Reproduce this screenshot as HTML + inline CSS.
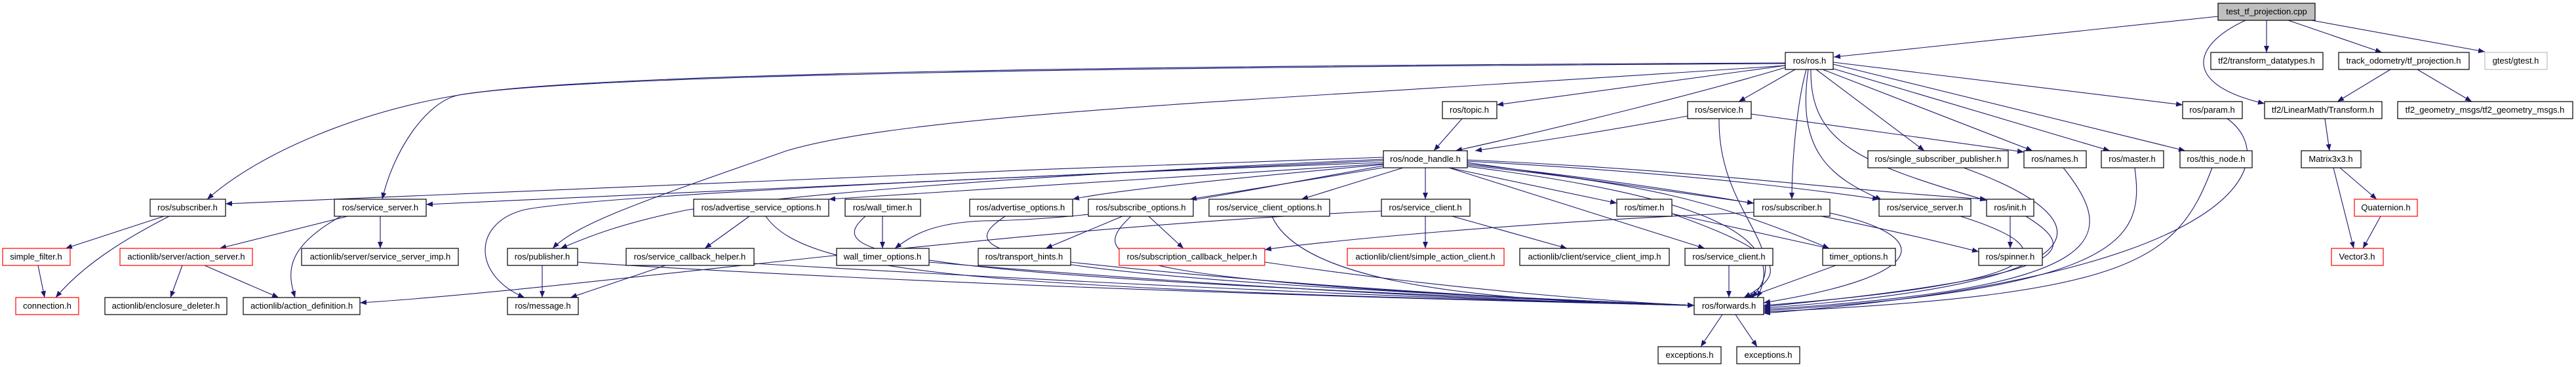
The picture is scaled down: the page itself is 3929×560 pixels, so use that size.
<!DOCTYPE html>
<html><head><meta charset="utf-8"><style>
html,body{margin:0;padding:0;background:#fff;}
svg{display:block;}
text{font-family:"Liberation Sans",sans-serif;font-size:13px;text-anchor:middle;fill:#000;}
.e{fill:none;stroke:#191970;stroke-width:1.1;marker-end:url(#a);}
.n{fill:#fff;stroke:#000;stroke-width:1.2;}
.r{fill:#fff;stroke:#f00;stroke-width:1.2;}
</style></head><body>
<svg width="3929" height="560" viewBox="0 0 3929 560" xmlns="http://www.w3.org/2000/svg">
<defs><marker id="a" viewBox="0 0 10 8" refX="10" refY="4" markerWidth="10" markerHeight="8" markerUnits="userSpaceOnUse" orient="auto"><path d="M0,0 L10,4 L0,8 z" fill="#191970"/></marker></defs>
<g>
<path class="e" d="M3383,25 L2797,87"/>
<path class="e" d="M3457,31 L3457,80"/>
<path class="e" d="M3425,31 C3340,70 3330,130 3454,158"/>
<path class="e" d="M3490,31 L3633,80"/>
<path class="e" d="M3520,30 L3790,79"/>
<path class="e" d="M3646,106 L3565,155"/>
<path class="e" d="M3687,106 L3770,155"/>
<path class="e" d="M3546,181 L3553,230"/>
<path class="e" d="M3569,256 L3625,304"/>
<path class="e" d="M3559,256 L3590,379"/>
<path class="e" d="M3631,330 L3604,379"/>
<path class="e" d="M2723,100 L2283,160"/>
<path class="e" d="M2738,106 L2652,155"/>
<path class="e" d="M2723,103 C2600,140 2400,190 2220,230"/>
<path class="e" d="M2574,177 C2450,200 2350,215 2250,230"/>
<path class="e" d="M2230,181 L2187,230"/>
<path class="e" d="M2755,106 C2740,160 2733,250 2733,304"/>
<path class="e" d="M2770,106 L2935,230"/>
<path class="e" d="M2780,106 L3100,230"/>
<path class="e" d="M2790,103 L3218,230"/>
<path class="e" d="M2796,98 L3333,230"/>
<path class="e" d="M2796,95 L3329,160"/>
<path class="e" d="M2762,106 C2760,220 2840,250 3030,306"/>
<path class="e" d="M2758,106 C2740,230 2790,270 2870,305"/>
<path class="e" d="M2671,174 L3087,232"/>
<path class="e" d="M2622,181 C2620,330 2740,380 2672,454"/>
<path class="e" d="M2723,96 C1800,100 900,110 700,145 C550,170 400,230 316,304"/>
<path class="e" d="M2723,97 C1800,102 900,112 700,145 C650,155 600,230 583,304"/>
<path class="e" d="M2723,100 C2000,150 1400,170 1200,230 C1000,300 880,340 843,379"/>
<path class="e" d="M2110,243 C1500,270 1200,300 1050,320 C950,340 900,360 855,379"/>
<path class="e" d="M2110,240 C1500,260 800,290 344,311"/>
<path class="e" d="M2110,245 C1500,270 900,300 650,312"/>
<path class="e" d="M2110,248 C1500,270 900,300 800,320 C720,340 720,420 800,454"/>
<path class="e" d="M2110,250 C1800,270 1500,290 1264,304"/>
<path class="e" d="M2110,251 C1900,270 1700,290 1636,304"/>
<path class="e" d="M2115,255 L1815,304"/>
<path class="e" d="M2140,256 L1985,304"/>
<path class="e" d="M2174,256 L2174,304"/>
<path class="e" d="M2210,256 L2466,310"/>
<path class="e" d="M2238,248 L2675,310"/>
<path class="e" d="M2238,246 C2500,260 2700,280 2866,304"/>
<path class="e" d="M2238,244 C2600,260 2800,290 3030,304"/>
<path class="e" d="M2210,256 L2600,379"/>
<path class="e" d="M2238,252 C2500,280 2600,300 2790,379"/>
<path class="e" d="M2238,250 C2600,290 2800,330 3018,384"/>
<path class="e" d="M2238,254 C2600,300 2730,360 2680,454"/>
<path class="e" d="M2110,253 C1900,290 1700,335 1500,337 C1420,340 1390,360 1365,379"/>
<path class="e" d="M2107,322 C1500,350 900,440 549,462"/>
<path class="e" d="M2174,330 L2174,379"/>
<path class="e" d="M2215,330 L2390,379"/>
<path class="e" d="M250,330 L100,379"/>
<path class="e" d="M258,330 C200,360 130,400 85,454"/>
<path class="e" d="M58,405 L68,454"/>
<path class="e" d="M530,330 L335,379"/>
<path class="e" d="M580,330 L580,379"/>
<path class="e" d="M520,330 C430,380 440,420 450,454"/>
<path class="e" d="M278,405 L260,454"/>
<path class="e" d="M312,405 L425,454"/>
<path class="e" d="M827,405 L827,454"/>
<path class="e" d="M881,400 C1500,440 2300,460 2584,466"/>
<path class="e" d="M1015,405 L870,454"/>
<path class="e" d="M1143,330 L1075,379"/>
<path class="e" d="M1168,330 C1230,420 1500,440 2584,466"/>
<path class="e" d="M1346,330 L1346,379"/>
<path class="e" d="M1320,330 C1250,390 1350,420 2584,466"/>
<path class="e" d="M1533,330 C1460,380 1450,420 2584,466"/>
<path class="e" d="M1712,330 L1595,379"/>
<path class="e" d="M1752,330 L1805,379"/>
<path class="e" d="M1725,330 C1650,400 1700,430 2584,466"/>
<path class="e" d="M1940,330 C1980,420 2200,460 2584,466"/>
<path class="e" d="M2675,324 C2300,340 2000,370 1929,381"/>
<path class="e" d="M1633,400 C2000,440 2400,460 2584,466"/>
<path class="e" d="M1929,400 C2200,440 2450,460 2584,466"/>
<path class="e" d="M1150,402 C1800,440 2300,460 2584,466"/>
<path class="e" d="M1417,400 C1900,440 2300,460 2584,466"/>
<path class="e" d="M2637,405 L2637,454"/>
<path class="e" d="M2550,326 C2700,380 2740,410 2660,454"/>
<path class="e" d="M2550,326 L2790,379"/>
<path class="e" d="M2800,405 L2665,454"/>
<path class="e" d="M2791,325 C2950,360 2950,420 2690,462"/>
<path class="e" d="M2990,330 C3150,380 3150,430 2690,466"/>
<path class="e" d="M3066,330 L3066,379"/>
<path class="e" d="M3090,330 C3170,380 3180,420 2690,468"/>
<path class="e" d="M2995,256 C3200,330 3250,430 2690,470"/>
<path class="e" d="M3147,256 C3230,360 3230,440 2690,472"/>
<path class="e" d="M3256,256 C3270,360 3250,440 2690,474"/>
<path class="e" d="M3374,256 C3320,400 3250,450 2690,476"/>
<path class="e" d="M3397,181 C3480,240 3440,420 2690,478"/>
<path class="e" d="M2627,480 L2594,529"/>
<path class="e" d="M2647,480 L2680,529"/>
</g>
<g>
<rect x="3383" y="5" width="148" height="26" fill="#bfbfbf" stroke="#000" stroke-width="1.2"/><text x="3457" y="22">test_tf_projection.cpp</text>
<rect class="n" x="2723" y="80" width="73" height="26"/><text x="2760" y="97">ros/ros.h</text>
<rect class="n" x="3372" y="80" width="171" height="26"/><text x="3457" y="97">tf2/transform_datatypes.h</text>
<rect class="n" x="3567" y="80" width="199" height="26"/><text x="3666" y="97">track_odometry/tf_projection.h</text>
<rect x="3790" y="80" width="95" height="26" fill="#fff" stroke="#bfbfbf" stroke-width="1.2"/><text x="3837" y="97">gtest/gtest.h</text>
<rect class="n" x="2200" y="155" width="83" height="26"/><text x="2241" y="172">ros/topic.h</text>
<rect class="n" x="2574" y="155" width="97" height="26"/><text x="2622" y="172">ros/service.h</text>
<rect class="n" x="3329" y="155" width="91" height="26"/><text x="3374" y="172">ros/param.h</text>
<rect class="n" x="3454" y="155" width="179" height="26"/><text x="3543" y="172">tf2/LinearMath/Transform.h</text>
<rect class="n" x="3657" y="155" width="267" height="26"/><text x="3790" y="172">tf2_geometry_msgs/tf2_geometry_msgs.h</text>
<rect class="n" x="2110" y="230" width="128" height="26"/><text x="2174" y="247">ros/node_handle.h</text>
<rect class="n" x="2849" y="230" width="214" height="26"/><text x="2956" y="247">ros/single_subscriber_publisher.h</text>
<rect class="n" x="3087" y="230" width="95" height="26"/><text x="3134" y="247">ros/names.h</text>
<rect class="n" x="3205" y="230" width="95" height="26"/><text x="3252" y="247">ros/master.h</text>
<rect class="n" x="3325" y="230" width="110" height="26"/><text x="3380" y="247">ros/this_node.h</text>
<rect class="n" x="3510" y="230" width="91" height="26"/><text x="3555" y="247">Matrix3x3.h</text>
<rect class="n" x="229" y="304" width="115" height="26"/><text x="286" y="321">ros/subscriber.h</text>
<rect class="n" x="510" y="304" width="140" height="26"/><text x="580" y="321">ros/service_server.h</text>
<rect class="n" x="1058" y="304" width="206" height="26"/><text x="1161" y="321">ros/advertise_service_options.h</text>
<rect class="n" x="1289" y="304" width="115" height="26"/><text x="1346" y="321">ros/wall_timer.h</text>
<rect class="n" x="1479" y="304" width="157" height="26"/><text x="1557" y="321">ros/advertise_options.h</text>
<rect class="n" x="1660" y="304" width="160" height="26"/><text x="1740" y="321">ros/subscribe_options.h</text>
<rect class="n" x="1844" y="304" width="184" height="26"/><text x="1936" y="321">ros/service_client_options.h</text>
<rect class="n" x="2107" y="304" width="135" height="26"/><text x="2174" y="321">ros/service_client.h</text>
<rect class="n" x="2466" y="304" width="84" height="26"/><text x="2508" y="321">ros/timer.h</text>
<rect class="n" x="2675" y="304" width="116" height="26"/><text x="2733" y="321">ros/subscriber.h</text>
<rect class="n" x="2866" y="304" width="140" height="26"/><text x="2936" y="321">ros/service_server.h</text>
<rect class="n" x="3030" y="304" width="72" height="26"/><text x="3066" y="321">ros/init.h</text>
<rect class="r" x="3591" y="304" width="96" height="26"/><text x="3639" y="321">Quaternion.h</text>
<rect class="r" x="4" y="379" width="103" height="26"/><text x="55" y="396">simple_filter.h</text>
<rect class="r" x="183" y="379" width="202" height="26"/><text x="284" y="396">actionlib/server/action_server.h</text>
<rect class="n" x="460" y="379" width="239" height="26"/><text x="580" y="396">actionlib/server/service_server_imp.h</text>
<rect class="n" x="774" y="379" width="107" height="26"/><text x="827" y="396">ros/publisher.h</text>
<rect class="n" x="955" y="379" width="195" height="26"/><text x="1052" y="396">ros/service_callback_helper.h</text>
<rect class="n" x="1276" y="379" width="141" height="26"/><text x="1346" y="396">wall_timer_options.h</text>
<rect class="n" x="1492" y="379" width="141" height="26"/><text x="1562" y="396">ros/transport_hints.h</text>
<rect class="r" x="1707" y="379" width="222" height="26"/><text x="1818" y="396">ros/subscription_callback_helper.h</text>
<rect class="r" x="2055" y="379" width="239" height="26"/><text x="2174" y="396">actionlib/client/simple_action_client.h</text>
<rect class="n" x="2318" y="379" width="228" height="26"/><text x="2432" y="396">actionlib/client/service_client_imp.h</text>
<rect class="n" x="2570" y="379" width="134" height="26"/><text x="2637" y="396">ros/service_client.h</text>
<rect class="n" x="2780" y="379" width="111" height="26"/><text x="2835" y="396">timer_options.h</text>
<rect class="n" x="3018" y="379" width="97" height="26"/><text x="3066" y="396">ros/spinner.h</text>
<rect class="r" x="3556" y="379" width="79" height="26"/><text x="3595" y="396">Vector3.h</text>
<rect class="r" x="24" y="454" width="96" height="26"/><text x="72" y="471">connection.h</text>
<rect class="n" x="160" y="454" width="186" height="26"/><text x="253" y="471">actionlib/enclosure_deleter.h</text>
<rect class="n" x="371" y="454" width="178" height="26"/><text x="460" y="471">actionlib/action_definition.h</text>
<rect class="n" x="774" y="454" width="108" height="26"/><text x="828" y="471">ros/message.h</text>
<rect class="n" x="2584" y="454" width="106" height="26"/><text x="2637" y="471">ros/forwards.h</text>
<rect class="n" x="2529" y="529" width="96" height="26"/><text x="2577" y="546">exceptions.h</text>
<rect class="n" x="2649" y="529" width="96" height="26"/><text x="2697" y="546">exceptions.h</text>
</g>
</svg>
</body></html>
